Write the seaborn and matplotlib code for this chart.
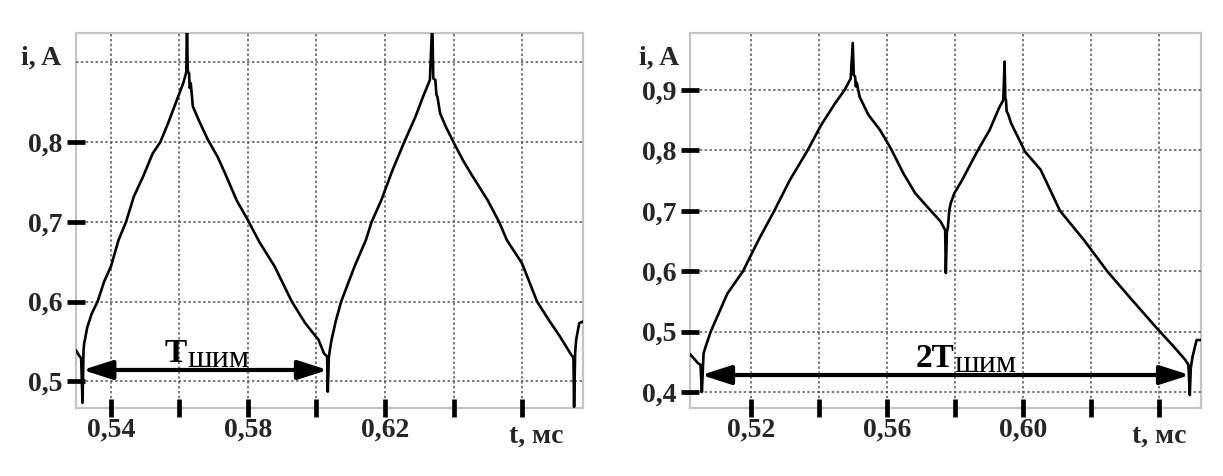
import matplotlib
matplotlib.use('Agg')
import matplotlib.pyplot as plt
import pandas as pd
import seaborn as sns

# ---------------- data ----------------
left_t = [0.5298, 0.5306, 0.5313, 0.5317, 0.5320, 0.5322, 0.5324, 0.5331, 0.5344, 0.5361,
          0.5380, 0.5400, 0.5422, 0.5444, 0.5467, 0.5494, 0.5522, 0.5544, 0.5567, 0.5589,
          0.5611, 0.5620, 0.5622, 0.5624, 0.5628, 0.5630, 0.5633, 0.5639, 0.5656, 0.5683,
          0.5711, 0.5733, 0.5767, 0.5800, 0.5833, 0.5878, 0.5928, 0.5967, 0.6006, 0.6022,
          0.6031, 0.6033, 0.6036, 0.6039, 0.6044, 0.6056, 0.6072, 0.6111, 0.6144, 0.6161,
          0.6189, 0.6222, 0.6256, 0.6289, 0.6311, 0.6331, 0.6338, 0.6341, 0.6347, 0.6350,
          0.6353, 0.6361, 0.6378, 0.6400, 0.6428, 0.6456, 0.6500, 0.6533, 0.6556, 0.6600,
          0.6644, 0.6678, 0.6711, 0.6744, 0.6750, 0.6752, 0.6755, 0.6758, 0.6767, 0.6778]
left_i = [0.539, 0.533, 0.529, 0.473, 0.539, 0.548, 0.552, 0.568, 0.585, 0.600,
          0.625, 0.644, 0.677, 0.700, 0.732, 0.757, 0.786, 0.800, 0.824, 0.849,
          0.874, 0.888, 0.950, 0.890, 0.886, 0.868, 0.874, 0.845, 0.828, 0.803,
          0.782, 0.761, 0.727, 0.702, 0.675, 0.644, 0.600, 0.573, 0.552, 0.535,
          0.531, 0.487, 0.530, 0.539, 0.552, 0.575, 0.600, 0.644, 0.677, 0.700,
          0.727, 0.765, 0.800, 0.832, 0.857, 0.878, 0.950, 0.880, 0.878, 0.860,
          0.857, 0.836, 0.819, 0.800, 0.777, 0.757, 0.727, 0.700, 0.677, 0.648,
          0.600, 0.577, 0.556, 0.533, 0.530, 0.468, 0.535, 0.552, 0.573, 0.575]

right_t = [0.5019, 0.5022, 0.5042, 0.5050, 0.5054, 0.5057, 0.5059, 0.5065, 0.5080, 0.5129,
           0.5175, 0.5221, 0.5267, 0.5313, 0.5365, 0.5405, 0.5446, 0.5474, 0.5492, 0.5498,
           0.5501, 0.5505, 0.5507, 0.5510, 0.5518, 0.5544, 0.5578, 0.5601, 0.5613, 0.5647,
           0.5682, 0.5728, 0.5757, 0.5770, 0.5772, 0.5775, 0.5778, 0.5782, 0.5786, 0.5797,
           0.5820, 0.5866, 0.5901, 0.5930, 0.5941, 0.5945, 0.5947, 0.5949, 0.5951, 0.5956,
           0.5964, 0.5993, 0.6005, 0.6051, 0.6108, 0.6178, 0.6247, 0.6316, 0.6397, 0.6443,
           0.6477, 0.6486, 0.6490, 0.6493, 0.6498, 0.6510, 0.6523]
right_i = [0.463, 0.461, 0.448, 0.445, 0.400, 0.440, 0.464, 0.475, 0.500, 0.563,
           0.600, 0.652, 0.700, 0.751, 0.800, 0.842, 0.878, 0.900, 0.919, 0.978,
           0.925, 0.922, 0.906, 0.912, 0.889, 0.859, 0.834, 0.812, 0.800, 0.762,
           0.729, 0.700, 0.682, 0.668, 0.597, 0.665, 0.672, 0.700, 0.712, 0.729,
           0.751, 0.800, 0.834, 0.872, 0.883, 0.947, 0.886, 0.883, 0.865, 0.859,
           0.845, 0.812, 0.798, 0.768, 0.700, 0.652, 0.600, 0.555, 0.503, 0.475,
           0.453, 0.445, 0.395, 0.440, 0.458, 0.486, 0.486]

left_xticks = [0.54, 0.56, 0.58, 0.60, 0.62, 0.64, 0.66]
left_xticklabels = ['0,54', '', '0,58', '', '0,62', '', '']
left_yticks = [0.5, 0.6, 0.7, 0.8]
left_yticklabels = ['0,5', '0,6', '0,7', '0,8']
left_ygrid = [0.9]
left_xlim = (0.5298, 0.6778)
left_ylim = (0.4665, 0.937)
left_span = (0.5317, 0.6033)
left_span_y = 0.5142

right_xticks = [0.52, 0.54, 0.56, 0.58, 0.60, 0.62, 0.64]
right_xticklabels = ['0,52', '', '0,56', '', '0,60', '', '']
right_yticks = [0.4, 0.5, 0.6, 0.7, 0.8, 0.9]
right_yticklabels = ['0,4', '0,5', '0,6', '0,7', '0,8', '0,9']
right_ygrid = []
right_xlim = (0.5019, 0.6523)
right_ylim = (0.3735, 0.9944)
right_span = (0.5052, 0.6490)
right_span_y = 0.4281

y_label = 'i, A'
x_label = 't, мс'
left_period_main, left_period_sub = 'T', 'шим'
right_period_main, right_period_sub = '2T', 'шим'

# ---------------- style ----------------
sns.set_theme(style='white')
plt.rcParams['font.family'] = ['Liberation Serif', 'DejaVu Serif']
plt.rcParams['font.weight'] = 'bold'

W, H = 1223, 476
fig = plt.figure(figsize=(W / 100, H / 100), dpi=100)
fig.patch.set_facecolor('white')

ax1 = fig.add_axes([76 / W, 1 - 408 / H, (583 - 76) / W, (408 - 33) / H])
ax2 = fig.add_axes([690 / W, 1 - 408 / H, (1201 - 690) / W, (408 - 33) / H])

left_df = pd.DataFrame({'t': left_t, 'i': left_i})
right_df = pd.DataFrame({'t': right_t, 'i': right_i})

GRID = dict(color='#555555', linestyle=(0, (1.6, 1.6)), linewidth=1.1)

def style_axes(ax, df, xticks, xticklabels, yticks, yticklabels, ygrid, xlim, ylim,
               span, span_y, main, sub, label_x, label_y_main, label_y_sub, xlab_x):
    sns.lineplot(data=df, x='t', y='i', ax=ax, color='black', linewidth=1.9,
                 sort=False, estimator=None, legend=False)
    ax.set_xlim(*xlim)
    ax.set_ylim(*ylim)
    ax.set_xlabel('')
    ax.set_ylabel('')
    ax.set_xticks(xticks)
    ax.set_xticklabels(xticklabels)
    ax.set_yticks(yticks)
    ax.set_yticklabels(yticklabels)
    ax.set_yticks(ygrid, minor=True)
    ax.grid(which='major', **GRID)
    ax.grid(which='minor', axis='y', **GRID)
    ax.set_axisbelow(True)
    ax.tick_params(axis='both', which='minor', length=0, left=True, bottom=True)
    ax.tick_params(axis='x', which='major', direction='inout', length=12.5, width=3.4,
                   color='black', labelsize=20, pad=1, bottom=True)
    ax.tick_params(axis='y', which='major', direction='inout', length=13, width=3.4,
                   color='black', labelsize=20, pad=3, left=True)
    for lab in ax.get_xticklabels() + ax.get_yticklabels():
        lab.set_fontweight('bold')
    for s in ax.spines.values():
        s.set_color('#c4c4c4')
        s.set_linewidth(1.6)
        s.set_visible(True)
        s.set_zorder(0.3)
    ax.annotate('', xy=(span[1], span_y), xytext=(span[0], span_y),
                arrowprops=dict(arrowstyle='<|-|>,head_length=1.0,head_width=0.32',
                                lw=3, color='black', shrinkA=0, shrinkB=0,
                                mutation_scale=18))
    ax.text(label_x, label_y_main, main, ha='right', va='baseline', fontsize=24,
            fontweight='bold', color='black')
    ax.text(label_x, label_y_sub, sub, ha='left', va='baseline', fontsize=23,
            fontweight='normal', color='black')
    ax.annotate(x_label, xy=(xlab_x, -0.0933), xycoords=('data', 'axes fraction'),
                ha='right', va='baseline', fontsize=20, fontweight='bold',
                annotation_clip=False)

style_axes(ax1, left_df, left_xticks, left_xticklabels, left_yticks, left_yticklabels,
           left_ygrid, left_xlim, left_ylim, left_span, left_span_y,
           left_period_main, left_period_sub, 0.5622, 0.5246, 0.5183, 0.672)
style_axes(ax2, right_df, right_xticks, right_xticklabels, right_yticks, right_yticklabels,
           right_ygrid, right_xlim, right_ylim, right_span, right_span_y,
           right_period_main, right_period_sub, 0.5797, 0.4419, 0.4336, 0.6480)

fig.text(61 / W, 1 - 65 / H, y_label, ha='right', va='baseline', fontsize=20, fontweight='bold')
fig.text(679 / W, 1 - 65 / H, y_label, ha='right', va='baseline', fontsize=20, fontweight='bold')

fig.savefig('out.png', dpi=100, facecolor='white')
